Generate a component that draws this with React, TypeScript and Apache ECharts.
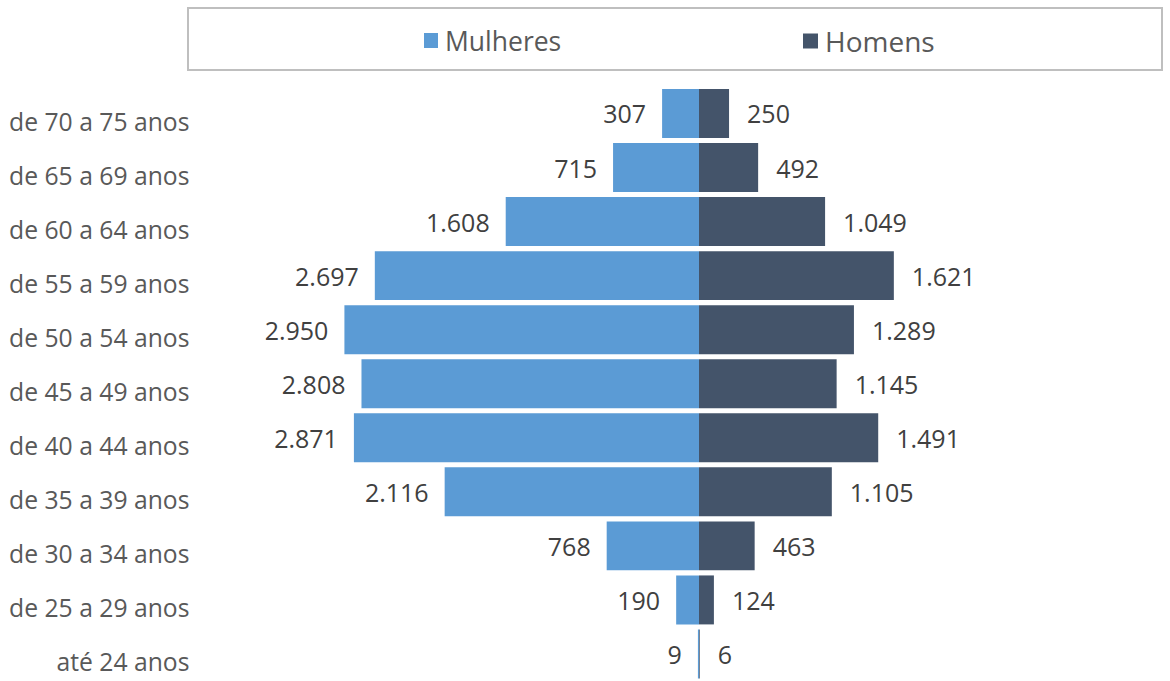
import React, { useEffect, useRef } from "react";
import * as echarts from "echarts";

const categories = [
  "de 70 a 75 anos",
  "de 65 a 69 anos",
  "de 60 a 64 anos",
  "de 55 a 59 anos",
  "de 50 a 54 anos",
  "de 45 a 49 anos",
  "de 40 a 44 anos",
  "de 35 a 39 anos",
  "de 30 a 34 anos",
  "de 25 a 29 anos",
  "até 24 anos",
];
const mulheres = [307, 715, 1608, 2697, 2950, 2808, 2871, 2116, 768, 190, 9];
const homens = [250, 492, 1049, 1621, 1289, 1145, 1491, 1105, 463, 124, 6];

const FONT = "'Open Sans', sans-serif";

function fmt(v: number): string {
  const s = String(Math.round(Math.abs(v)));
  return s.replace(/\B(?=(\d{3})+(?!\d))/g, ".");
}

export default function App() {
  const ref = useRef<HTMLDivElement>(null);
  useEffect(() => {
    if (!ref.current) return;
    const chart = echarts.init(ref.current, undefined, { renderer: "svg" });
    chart.setOption({
      animation: false,
      backgroundColor: "#ffffff",
      graphic: [
        {
          type: "rect",
          shape: { x: 188, y: 8, width: 974, height: 62 },
          style: { fill: "none", stroke: "#BFBFBF", lineWidth: 2 },
          z: 0,
        },
      ],
      legend: [
        {
          data: ["Mulheres"],
          left: 419,
          top: 22,
          itemWidth: 14,
          itemHeight: 15,
          icon: "rect",
          textStyle: { fontFamily: FONT, fontSize: 26.5, color: "#595959", padding: [0, 0, 0, 2] },
        },
        {
          data: ["Homens"],
          left: 798,
          top: 22,
          itemWidth: 15,
          itemHeight: 15,
          icon: "rect",
          textStyle: { fontFamily: FONT, fontSize: 28, color: "#595959", padding: [0, 0, 0, 2] },
        },
      ],
      grid: { left: 338.4, width: 721.2, top: 86.45, height: 598.9 },
      xAxis: {
        type: "value",
        min: -3000,
        max: 3000,
        show: false,
      },
      yAxis: {
        type: "category",
        data: categories,
        inverse: true,
        axisLine: { show: false },
        axisTick: { show: false },
        splitLine: { show: false },
        axisLabel: {
          align: "right",
          verticalAlign: "top",
          lineHeight: 16,
          margin: 149,
          fontFamily: FONT,
          fontSize: 24.7,
          color: "#595959",
        },
      },
      series: [
        {
          name: "Mulheres",
          type: "bar",
          stack: "total",
          barCategoryGap: "9.4%",
          data: mulheres.map((v) => -v),
          itemStyle: { color: "#5B9BD5" },
          label: {
            show: true,
            position: "left",
            distance: 16,
            fontFamily: FONT,
            fontSize: 25,
            color: "#404040",
            formatter: (p: any) => fmt(p.value),
          },
        },
        {
          name: "Homens",
          type: "bar",
          stack: "total",
          barCategoryGap: "9.4%",
          data: homens,
          itemStyle: { color: "#44546A" },
          label: {
            show: true,
            position: "right",
            distance: 18,
            fontFamily: FONT,
            fontSize: 25,
            color: "#404040",
            formatter: (p: any) => fmt(p.value),
          },
        },
      ],
    });
    return () => chart.dispose();
  }, []);
  return (
    <div
      ref={ref}
      style={{ position: "absolute", left: 0, top: 0, width: 1170, height: 681 }}
    />
  );
}
